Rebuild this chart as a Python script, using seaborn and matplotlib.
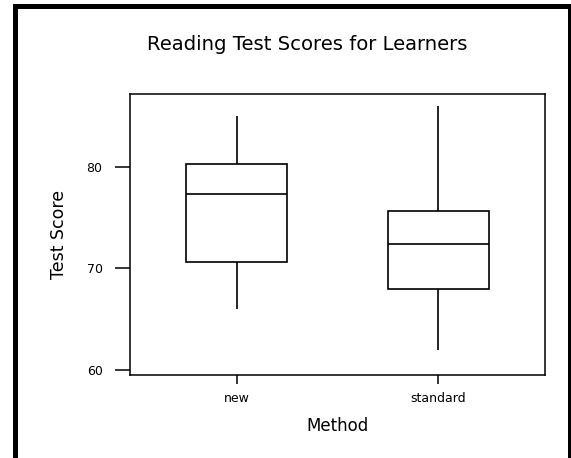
import matplotlib
matplotlib.use("Agg")
import matplotlib.pyplot as plt
import pandas as pd
import seaborn as sns
from matplotlib.patches import Rectangle

# five-number summaries (min, Q1, median, Q3, max)
methods = ["new", "standard"]
new_scores = [66, 70.65, 77.35, 80.25, 85]
standard_scores = [62, 68, 72.4, 75.6, 86]
y_ticks = [60, 70, 80]

df = pd.DataFrame({
    "Method": ["new"] * len(new_scores) + ["standard"] * len(standard_scores),
    "Test Score": new_scores + standard_scores,
})

sns.set_style("white")
plt.rcParams["font.family"] = ["DejaVu Sans"]

W, H = 571, 458
fig = plt.figure(figsize=(W / 100, H / 100), dpi=100)
ax = fig.add_axes([130 / W, 1 - 375 / H, 415 / W, 281 / H])

sns.boxplot(
    data=df, x="Method", y="Test Score", order=methods,
    color="white", linecolor="black", linewidth=1.2, width=0.5,
    showcaps=False, ax=ax,
)

ax.set_xlim(-0.53, 1.53)
ax.set_ylim(59.51, 87.15)
ax.set_yticks(y_ticks)
ax.set_yticklabels([str(t) for t in y_ticks])

for s in ax.spines.values():
    s.set_visible(True)
    s.set_color("black")
    s.set_linewidth(1.1)

ax.tick_params(axis="y", left=True, length=10.8, width=1.1, pad=9, labelsize=9, colors="black")
ax.tick_params(axis="x", bottom=True, length=6.5, width=1.1, pad=5.5, labelsize=9, colors="black")

ax.set_xlabel("Method", fontsize=12, color="black")
ax.set_ylabel("Test Score", fontsize=12.5, color="black")
ax.xaxis.set_label_coords(0.5, -0.15)
ax.yaxis.set_label_coords(-0.15, 0.5)

fig.text(307.5 / W, 1 - 45 / H, "Reading Test Scores for Learners",
         ha="center", va="center", fontsize=14.1, color="black")

# heavy black frame round the picture
frame = Rectangle((14.5 / W, -0.1), (569.5 - 14.5) / W, 1.1 - 6.5 / H,
                  transform=fig.transFigure, fill=False, edgecolor="black",
                  linewidth=3.6, joinstyle="miter")
fig.add_artist(frame)

fig.savefig("out.png", dpi=100)
